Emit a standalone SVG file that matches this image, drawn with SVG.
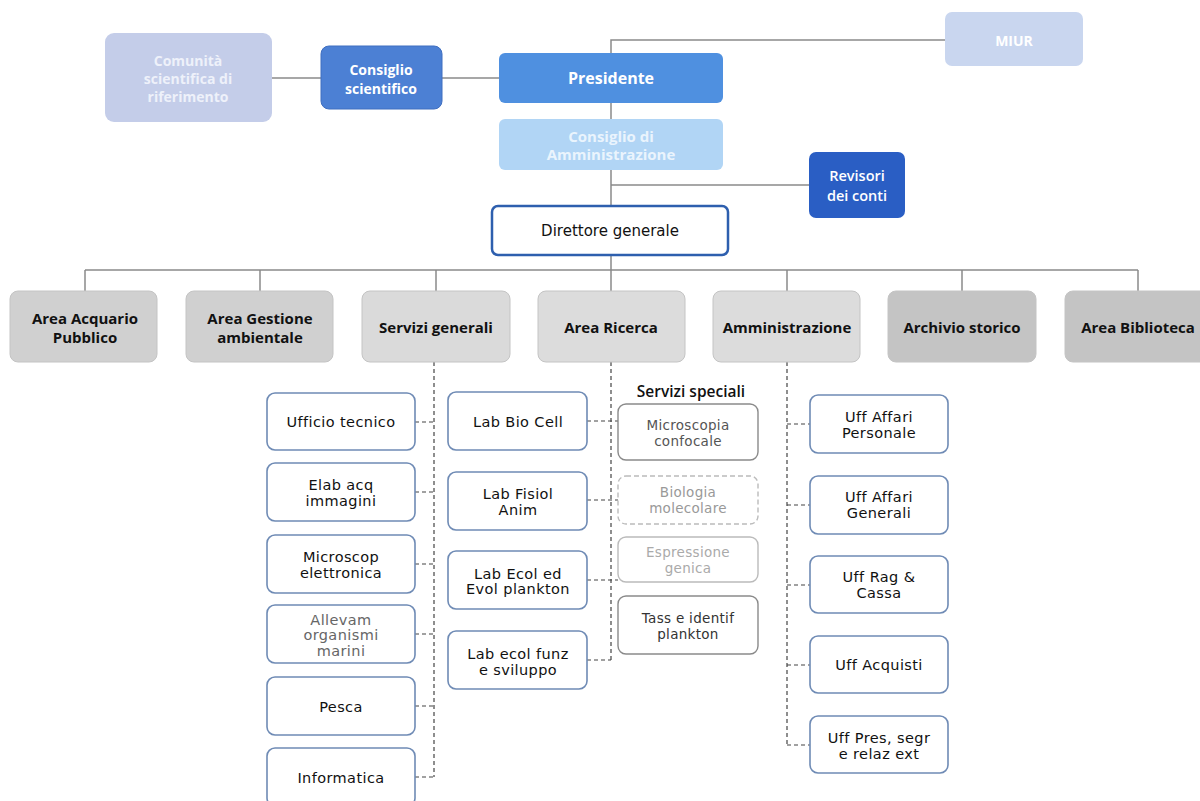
<svg xmlns="http://www.w3.org/2000/svg" width="1200" height="801" viewBox="0 0 1200 801">
<style>
text{font-family:"DejaVu Sans","Liberation Sans",sans-serif;text-anchor:middle;dominant-baseline:central}
.top{font-family:"Open Sans","DejaVu Sans",sans-serif;font-weight:bold;fill:#fff;font-size:14px}
.area rect{fill:#d0d0d0;stroke:#c4c4c4;stroke-width:1}
.area text{font-family:"Open Sans","DejaVu Sans",sans-serif;font-weight:bold;font-size:15px;fill:#111}
.sub rect{fill:#fff;stroke:#6f8bb5;stroke-width:1.6}
.sub text{font-size:14.5px;letter-spacing:0.4px;fill:#111}
.sp rect{fill:#fff;stroke:#8a8a8a;stroke-width:1.4}
.sp text{font-size:13.5px;letter-spacing:0.3px;fill:#333}
.solid{stroke:#8a8a8a;stroke-width:1.5;fill:none}
.dash{stroke:#444;stroke-width:1.2;stroke-dasharray:4,3;fill:none}
</style>
<rect width="1200" height="801" fill="#fff"/>
<g id="connectors">
<path class="solid" d="M272 78H321M442 78H499"/>
<path class="solid" d="M611 53V40H945"/>
<path class="solid" d="M611 103V119M611 170V205M611 185H809"/>
<path class="solid" d="M611 255V270M85 270H1138M85 270V291M260 270V291M436 270V291M611 270V291M787 270V291M962 270V291M1138 270V291"/>
<path class="dash" d="M434 362V777M415 422H434M415 492H434M415 564H434M415 634H434M415 706H434M415 777H434"/>
<path class="dash" d="M611 362V660M587 421H618M587 500H618M587 580H618M587 660H611"/>
<path class="dash" d="M787 362V745M787 424H810M787 505H810M787 585H810M787 665H810M787 745H810"/>
</g>
<g id="comunita"><rect x="105" y="33" width="167" height="89" rx="9" fill="#c4cde9"/>
<text class="top" x="188" y="60" style="fill:#eef1fa">Comunità</text><text class="top" x="188" y="78" style="fill:#eef1fa">scientifica di</text><text class="top" x="188" y="96" style="fill:#eef1fa">riferimento</text></g>
<g id="consiglio-sci"><rect x="321" y="46" width="121" height="63" rx="8" fill="#4c80d4" stroke="#3e6ec0"/>
<text class="top" x="381" y="69">Consiglio</text><text class="top" x="381" y="88">scientifico</text></g>
<g id="presidente"><rect x="499" y="53" width="224" height="50" rx="6" fill="#4f90e0"/>
<text class="top" x="611" y="78" style="font-size:16px">Presidente</text></g>
<g id="miur"><rect x="945" y="12" width="138" height="54" rx="7" fill="#c9d6ef"/>
<text class="top" x="1014" y="40">MIUR</text></g>
<g id="cda"><rect x="499" y="119" width="224" height="51" rx="6" fill="#b1d5f5"/>
<text class="top" x="611" y="136" style="font-size:15px;fill:#eaf4fd">Consiglio di</text><text class="top" x="611" y="154" style="font-size:15px;fill:#eaf4fd">Amministrazione</text></g>
<g id="revisori"><rect x="809" y="152" width="96" height="66" rx="7" fill="#2a5ec4"/>
<text x="857" y="175" style="fill:#fff;font-size:14.5px;font-family:'Open Sans',sans-serif;font-weight:600">Revisori</text><text x="857" y="195" style="fill:#fff;font-size:14.5px;font-family:'Open Sans',sans-serif;font-weight:600">dei conti</text></g>
<g id="direttore"><rect x="492" y="206" width="236" height="49" rx="6" fill="#fff" stroke="#2e5fae" stroke-width="2.5"/>
<text x="610" y="231" style="font-size:15px;fill:#111">Direttore generale</text></g>
<g id="area-acquario" class="area"><rect x="10" y="291" width="147" height="71" rx="8"/><text x="85" y="318">Area Acquario</text><text x="85" y="337">Pubblico</text></g>
<g id="area-gestione" class="area"><rect x="186" y="291" width="147" height="71" rx="8"/><text x="260" y="318">Area Gestione</text><text x="260" y="337">ambientale</text></g>
<g id="servizi-generali" class="area"><rect x="362" y="291" width="148" height="71" rx="8" style="fill:#dadada"/><text x="436" y="327">Servizi generali</text></g>
<g id="area-ricerca" class="area"><rect x="538" y="291" width="147" height="71" rx="8" style="fill:#dcdcdc"/><text x="611" y="327">Area Ricerca</text></g>
<g id="amministrazione" class="area"><rect x="713" y="291" width="147" height="71" rx="8" style="fill:#dcdcdc"/><text x="787" y="327">Amministrazione</text></g>
<g id="archivio" class="area"><rect x="888" y="291" width="148" height="71" rx="8" style="fill:#c4c4c4"/><text x="962" y="327">Archivio storico</text></g>
<g id="biblioteca" class="area"><rect x="1065" y="291" width="145" height="71" rx="8" style="fill:#c4c4c4"/><text x="1138" y="327">Area Biblioteca</text></g>
<g id="ufficio-tecnico" class="sub"><rect x="267" y="393" width="148" height="57" rx="8"/><text x="341" y="422">Ufficio tecnico</text></g>
<g id="elab" class="sub"><rect x="267" y="463" width="148" height="58" rx="8"/><text x="341" y="485">Elab acq</text><text x="341" y="501">immagini</text></g>
<g id="microscop" class="sub"><rect x="267" y="535" width="148" height="58" rx="8"/><text x="341" y="557">Microscop</text><text x="341" y="573">elettronica</text></g>
<g id="allevam" class="sub"><rect x="267" y="605" width="148" height="58" rx="8"/><text x="341" y="620" style="fill:#666">Allevam</text><text x="341" y="635" style="fill:#666">organismi</text><text x="341" y="651" style="fill:#666">marini</text></g>
<g id="pesca" class="sub"><rect x="267" y="677" width="148" height="58" rx="8"/><text x="341" y="707">Pesca</text></g>
<g id="informatica" class="sub"><rect x="267" y="748" width="148" height="58" rx="8"/><text x="341" y="778">Informatica</text></g>
<g id="lab-bio-cell" class="sub"><rect x="448" y="392" width="139" height="58" rx="8"/><text x="518" y="422">Lab Bio Cell</text></g>
<g id="lab-fisiol" class="sub"><rect x="448" y="472" width="139" height="58" rx="8"/><text x="518" y="494">Lab Fisiol</text><text x="518" y="510">Anim</text></g>
<g id="lab-ecol-evol" class="sub"><rect x="448" y="551" width="139" height="58" rx="8"/><text x="518" y="574">Lab Ecol ed</text><text x="518" y="589">Evol plankton</text></g>
<g id="lab-ecol-funz" class="sub"><rect x="448" y="631" width="139" height="58" rx="8"/><text x="518" y="654">Lab ecol funz</text><text x="518" y="670">e sviluppo</text></g>
<text x="691" y="391" style="font-size:15.5px;fill:#111;font-family:'Open Sans',sans-serif;font-weight:600">Servizi speciali</text>
<g id="microscopia-confocale" class="sp"><rect x="618" y="404" width="140" height="56" rx="8"/><text x="688" y="425" style="fill:#555">Microscopia</text><text x="688" y="441" style="fill:#555">confocale</text></g>
<g id="biologia" class="sp"><rect x="618" y="476" width="140" height="48" rx="8" style="stroke:#bbb;stroke-dasharray:5,3"/><text x="688" y="492" style="fill:#999">Biologia</text><text x="688" y="508" style="fill:#999">molecolare</text></g>
<g id="espressione" class="sp"><rect x="618" y="537" width="140" height="45" rx="8" style="stroke:#bbb"/><text x="688" y="552" style="fill:#aaa">Espressione</text><text x="688" y="568" style="fill:#aaa">genica</text></g>
<g id="tass" class="sp"><rect x="618" y="596" width="140" height="58" rx="8"/><text x="688" y="618">Tass e identif</text><text x="688" y="634">plankton</text></g>
<g id="uff-personale" class="sub"><rect x="810" y="395" width="138" height="58" rx="8"/><text x="879" y="417">Uff Affari</text><text x="879" y="433">Personale</text></g>
<g id="uff-generali" class="sub"><rect x="810" y="476" width="138" height="58" rx="8"/><text x="879" y="497">Uff Affari</text><text x="879" y="513">Generali</text></g>
<g id="uff-rag" class="sub"><rect x="810" y="556" width="138" height="57" rx="8"/><text x="879" y="577">Uff Rag &amp;</text><text x="879" y="593">Cassa</text></g>
<g id="uff-acquisti" class="sub"><rect x="810" y="636" width="138" height="57" rx="8"/><text x="879" y="665">Uff Acquisti</text></g>
<g id="uff-pres" class="sub"><rect x="810" y="716" width="138" height="57" rx="8"/><text x="879" y="738">Uff Pres, segr</text><text x="879" y="754">e relaz ext</text></g>
</svg>
